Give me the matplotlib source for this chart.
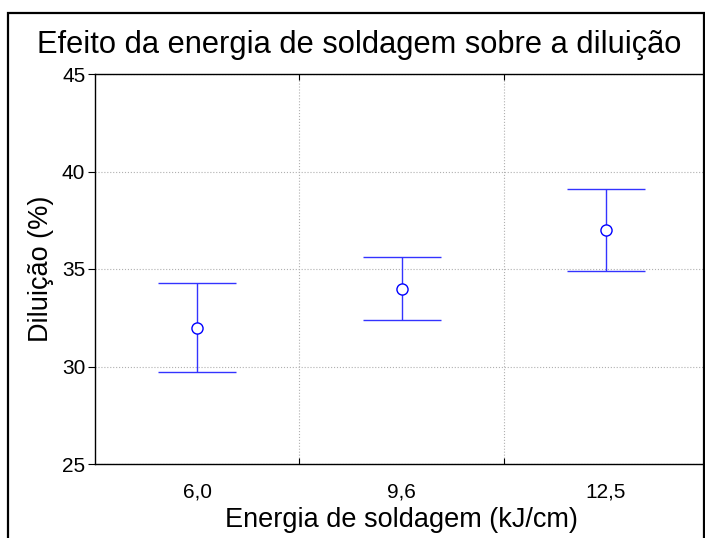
import matplotlib
matplotlib.use("Agg")
import matplotlib.pyplot as plt
import matplotlib.ticker as ticker
from matplotlib.patches import Rectangle

plt.rcParams["font.family"] = ["Liberation Sans", "DejaVu Sans"]

categories = ["6,0", "9,6", "12,5"]
means = [32.0, 34.0, 37.0]
upper = [34.3, 35.6, 39.1]
lower = [29.7, 32.4, 34.9]

W, H = 705, 538
fig = plt.figure(figsize=(W / 100, H / 100), dpi=100)

# axes box; right spine sits just past the picture edge
left, right, bottom, top = 95, 708, 464, 74
ax = fig.add_axes([left / W, 1 - bottom / H, (right - left) / W, (bottom - top) / H])

x = list(range(len(categories)))
err_lo = [m - l for m, l in zip(means, lower)]
err_hi = [u - m for m, u in zip(means, upper)]

ax.errorbar(x, means, yerr=[err_lo, err_hi], fmt="o", color="#1a1aff",
            ecolor="#3333ff", elinewidth=1.0, capsize=28, capthick=1.0,
            markersize=8, markerfacecolor="white", markeredgecolor="#0000ff",
            markeredgewidth=1.0, zorder=3)

ax.set_xlim(-0.5, 2.5)
ax.set_ylim(25, 45)
ax.yaxis.set_major_locator(ticker.MultipleLocator(5))

ax.set_xticks([0.5, 1.5])
ax.set_xticklabels([])
ax.set_xticks(x, minor=True)
ax.set_xticklabels(categories, minor=True)
ax.tick_params(axis="x", which="major", direction="in", length=4, top=True, width=0.8)
ax.tick_params(axis="x", which="minor", length=0, pad=13, labelsize=15)
ax.tick_params(axis="y", which="major", direction="out", length=5, pad=2,
               labelsize=15, width=0.8)

ax.grid(True, which="major", color="#b0b0b0", linestyle=":", linewidth=0.8)
ax.set_axisbelow(True)

for s in ax.spines.values():
    s.set_linewidth(1.0)

ax.set_xlabel("Energia de soldagem (kJ/cm)", fontsize=19.5, labelpad=4)
ax.set_ylabel("Diluição (%)", fontsize=19.5, labelpad=6)

fig.text(359 / W, 1 - 45 / H, "Efeito da energia de soldagem sobre a diluição",
         ha="center", va="center", fontsize=22.2)

# outer frame around the figure (runs off the bottom)
fig.patches.append(Rectangle((7.5 / W, -0.05), (703.5 - 7.5) / W, 1 - 13 / H + 0.05,
                             transform=fig.transFigure, fill=False,
                             edgecolor="black", linewidth=1.6))

fig.savefig("out.png", dpi=100)
